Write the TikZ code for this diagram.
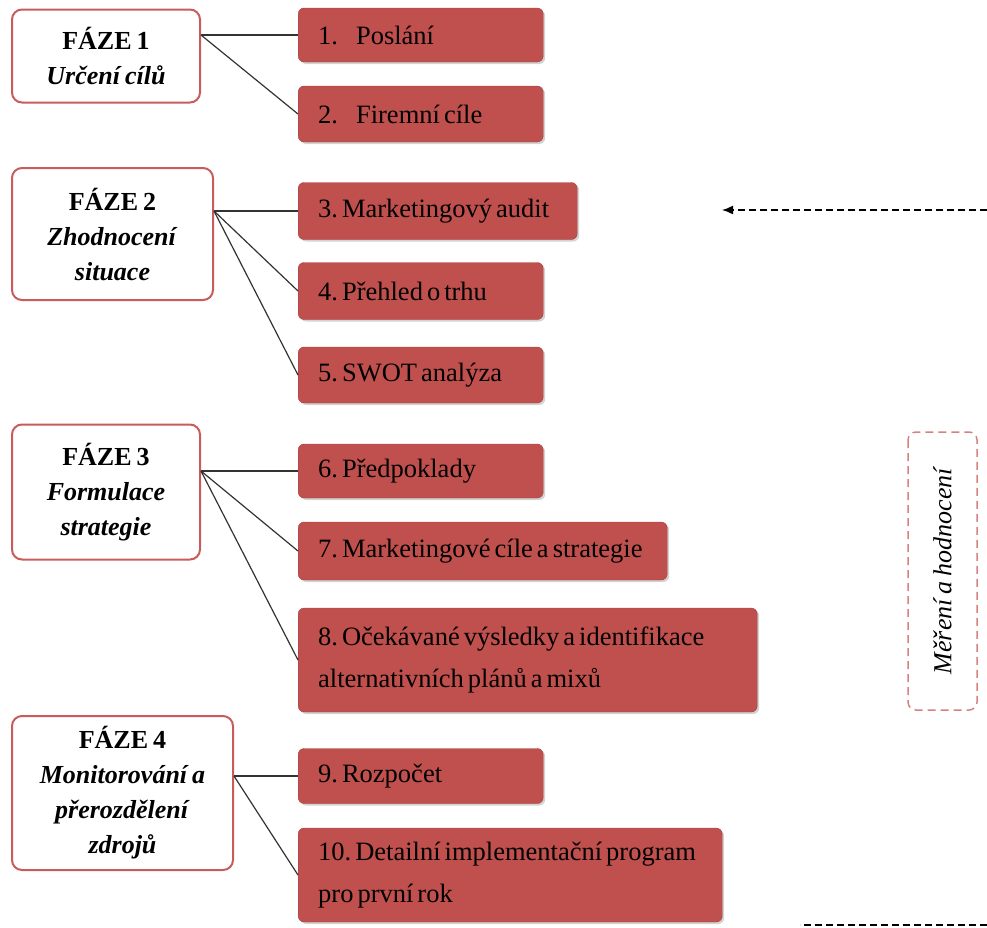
\documentclass[tikz,border=0pt]{standalone}
\usepackage{fontspec}
\setmainfont{Liberation Serif}
\usetikzlibrary{positioning,shadows,arrows.meta}
\definecolor{redfill}{RGB}{192,80,77}
\definecolor{redline}{RGB}{165,62,60}
\definecolor{fazered}{RGB}{200,92,90}
\definecolor{mhred}{RGB}{214,130,128}
\newcommand\krokfont{\fontsize{26.5}{42}\selectfont\frenchspacing\spaceskip=4pt plus 1pt\relax\hyphenpenalty=10000\relax}
\newcommand\fazefont{\fontsize{26}{35}\selectfont\frenchspacing\spaceskip=5pt plus 1pt\relax}

\begin{document}
\begin{tikzpicture}[x=1pt, y=-1pt,
  faze/.style={draw=fazered, line width=2pt, fill=white, rounded corners=10pt, align=flush center, font=\fazefont},
  krok/.style={draw=redline, fill=redfill, rounded corners=6pt, anchor=west, inner xsep=20pt, inner ysep=0pt, align=flush left, font=\krokfont, drop shadow={opacity=.35, shadow xshift=2pt, shadow yshift=-2pt}},
  spoj/.style={draw=black!80, line width=1.2pt},
  carka/.style={line width=1.5pt, dash pattern=on 7pt off 4pt}]
\useasboundingbox (0,0) rectangle (987,927);

% faze
\node (p1) [faze, minimum width=188pt, minimum height=93pt] at (106,56) {\textbf{FÁZE 1}\\\textbf{\textit{Určení cílů}}};
\node (p2) [faze, minimum width=201pt, minimum height=132pt] at (112.5,234) {\textbf{FÁZE 2}\\\textbf{\textit{Zhodnocení}}\\\textbf{\textit{situace}}};
\node (p3) [faze, minimum width=188pt, minimum height=135pt] at (106,492) {\textbf{FÁZE 3}\\\textbf{\textit{Formulace}}\\\textbf{\textit{strategie}}};
\node (p4) [faze, minimum width=221pt, minimum height=154pt] at (122.5,793) {\textbf{FÁZE 4}\\\textbf{\textit{Monitorování a}}\\\textbf{\textit{přerozdělení}}\\\textbf{\textit{zdrojů}}};

% kroky
\node (s1) [krok, text width=205pt, minimum height=54pt] at (298,35) {1.\hspace{18pt}Poslání};
\node (s2) [krok, text width=205pt, minimum height=56pt] at (298,114) {2.\hspace{18pt}Firemní cíle};
\node (s3) [krok, text width=239pt, minimum height=57pt] at (298,211) {3. Marketingový audit};
\node (s4) [krok, text width=205pt, minimum height=57pt] at (298,291) {4. Přehled o trhu};
\node (s5) [krok, text width=205pt, minimum height=56pt] at (298,375) {5. SWOT analýza};
\node (s6) [krok, text width=205pt, minimum height=54pt] at (298,471) {6. Předpoklady};
\node (s7) [krok, text width=329pt, minimum height=58pt] at (298,551) {7. Marketingové cíle a strategie};
\node (s8) [krok, text width=419pt, minimum height=104pt] at (298,660) {8. Očekávané výsledky a identifikace\\alternativních plánů a mixů};
\node (s9) [krok, text width=205pt, minimum height=55pt] at (298,776) {9. Rozpočet};
\node (s10) [krok, text width=384pt, minimum height=94pt] at (298,875) {10. Detailní implementační program\\pro první rok};

\draw[spoj] (p1.east |- s1.west) -- (s1.west);
\draw[spoj] (p1.east |- s1.west) -- (s2.west);
\draw[spoj] (p2.east |- s3.west) -- (s3.west);
\draw[spoj] (p2.east |- s3.west) -- (s4.west);
\draw[spoj] (p2.east |- s3.west) -- (s5.west);
\draw[spoj] (p3.east |- s6.west) -- (s6.west);
\draw[spoj] (p3.east |- s6.west) -- (s7.west);
\draw[spoj] (p3.east |- s6.west) -- (s8.west);
\draw[spoj] (p4.east |- s9.west) -- (s9.west);
\draw[spoj] (p4.east |- s9.west) -- (s10.west);

% mereni
\node (mh) [draw=mhred, line width=1.5pt, dash pattern=on 8pt off 5pt, rounded corners=8pt, rotate=90, minimum width=278pt, minimum height=69pt, font=\fazefont\itshape] at (942.5,571) {Měření a hodnocení};

\coordinate (zp1) at (987,210);
\coordinate (zp2) at (722,210);
\draw[carka, -{Latex[length=11pt, width=9pt]}] (zp1) -- (zp2);
\coordinate (zp3) at (987,925);
\coordinate (zp4) at (800,925);
\draw[carka] (zp3) -- (zp4);
\end{tikzpicture}
\end{document}
